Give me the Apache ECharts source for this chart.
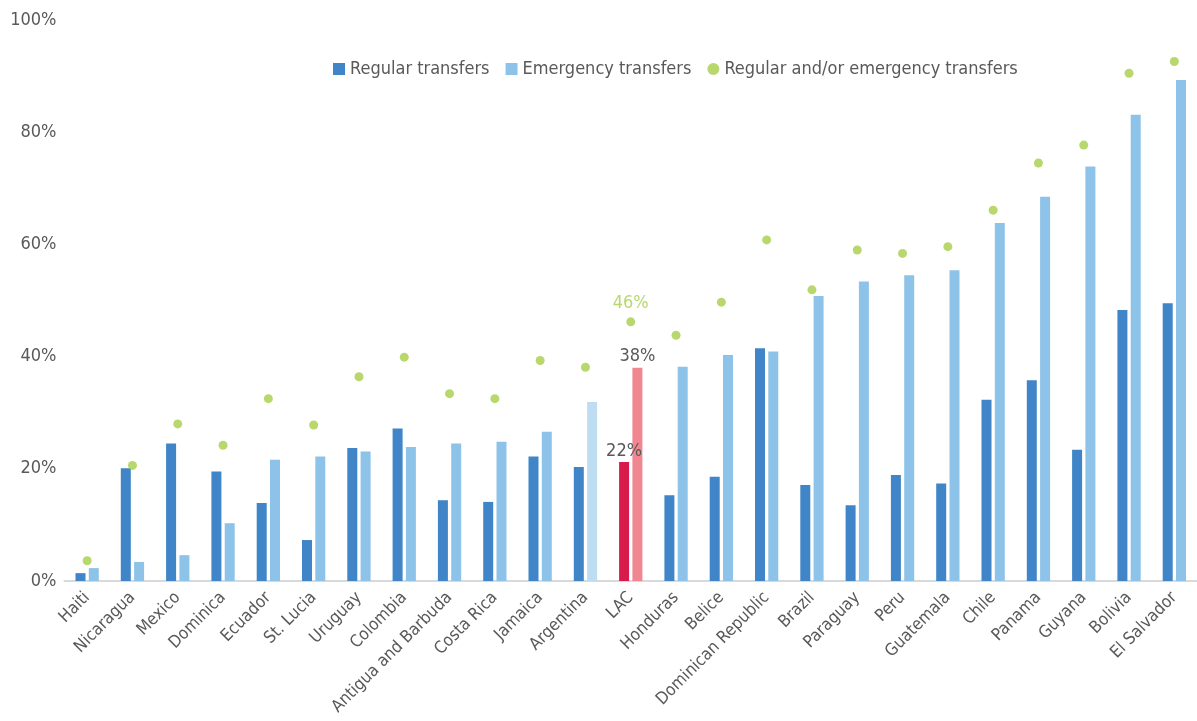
<!DOCTYPE html>
<html>
<head>
<meta charset="utf-8">
<script src="https://cdn.jsdelivr.net/npm/echarts@6/dist/echarts.min.js"></script>
<style>
html,body{margin:0;padding:0;background:#fff;}
#chart{width:1197px;height:721px;}
</style>
</head>
<body>
<div id="chart"></div>
<script>
const categories = ["Haiti","Nicaragua","Mexico","Dominica","Ecuador","St. Lucia","Uruguay","Colombia","Antigua and Barbuda","Costa Rica","Jamaica","Argentina","LAC","Honduras","Belice","Dominican Republic","Brazil","Paraguay","Peru","Guatemala","Chile","Panama","Guyana","Bolivia","El Salvador"];
const regular = [1.4, 20.1, 24.5, 19.5, 13.9, 7.3, 23.7, 27.2, 14.4, 14.1, 22.2, 20.3, 21.2, 15.3, 18.6, 41.5, 17.1, 13.5, 18.9, 17.4, 32.3, 35.8, 23.4, 48.3, 49.5];
const emergency = [2.3, 3.4, 4.6, 10.3, 21.6, 22.2, 23.1, 23.9, 24.5, 24.8, 26.6, 31.9, 38.0, 38.2, 40.3, 40.9, 50.8, 53.4, 54.5, 55.4, 63.8, 68.5, 73.9, 83.1, 89.3];
const combined = [3.6, 20.6, 28.0, 24.2, 32.5, 27.8, 36.4, 39.9, 33.4, 32.5, 39.3, 38.1, 46.2, 43.8, 49.7, 60.8, 51.9, 59.0, 58.4, 59.6, 66.1, 74.5, 77.7, 90.5, 92.6];
const lacLabels = { regular: "22%", emergency: "38%", combined: "46%" };
const seriesNames = ["Regular transfers", "Emergency transfers", "Regular and/or emergency transfers"];
const yTicks = [0, 20, 40, 60, 80, 100];

const FONT = '"Liberation Sans Narrow", "DejaVu Sans Condensed", "Roboto", sans-serif';
const C_REG = '#3F85C7', C_EM = '#8EC3E9', C_DOT = '#A6CE4A';

function build(values, kind) {
  return values.map((v, i) => {
    const c = categories[i];
    if (c === 'LAC') {
      const color = kind === 'regular' ? '#D91B4B' : kind === 'emergency' ? '#F08790' : C_DOT;
      return {
        value: v,
        itemStyle: { color: color },
        label: {
          show: true,
          position: 'top',
          distance: kind === 'combined' ? 5 : 2,
          formatter: lacLabels[kind],
          color: kind === 'combined' ? C_DOT : '#595959',
          fontSize: 18,
          fontFamily: FONT
        }
      };
    }
    if (c === 'Argentina' && kind === 'emergency') {
      return { value: v, itemStyle: { color: '#BEDDF3' } };
    }
    return v;
  });
}

const chart = echarts.init(document.getElementById('chart'));
chart.setOption({
  animation: false,
  backgroundColor: '#fff',
  textStyle: { fontFamily: FONT },
  grid: { left: 64.5, right: 0, top: 20, bottom: 140, containLabel: false },
  legend: {
    top: 55, left: 328,
    itemWidth: 12, itemHeight: 12, itemGap: 16,
    textStyle: { color: '#595959', fontSize: 18, fontFamily: FONT },
    data: [
      { name: seriesNames[0], icon: 'rect' },
      { name: seriesNames[1], icon: 'rect' },
      { name: seriesNames[2], icon: 'circle' }
    ]
  },
  xAxis: {
    type: 'category',
    data: categories,
    axisLine: { show: true, lineStyle: { color: '#D9D9D9', width: 2 } },
    axisTick: { show: false },
    axisLabel: { interval: 0, rotate: 45, color: '#595959', fontSize: 17, fontFamily: FONT, margin: 14 }
  },
  yAxis: {
    type: 'value',
    min: yTicks[0], max: yTicks[yTicks.length - 1], interval: 20,
    axisLine: { show: false },
    axisTick: { show: false },
    splitLine: { show: false },
    axisLabel: { formatter: '{value}%', color: '#595959', fontSize: 18, fontFamily: FONT, margin: 8 }
  },
  series: [
    { name: seriesNames[0], type: 'bar', data: build(regular, 'regular'), barWidth: 10, barGap: '33%', itemStyle: { color: C_REG } },
    { name: seriesNames[1], type: 'bar', data: build(emergency, 'emergency'), barWidth: 10, barGap: '33%', itemStyle: { color: C_EM } },
    { name: seriesNames[2], type: 'scatter', data: build(combined, 'combined'), symbolSize: 9, itemStyle: { color: C_DOT } }
  ]
});
</script>
</body>
</html>
